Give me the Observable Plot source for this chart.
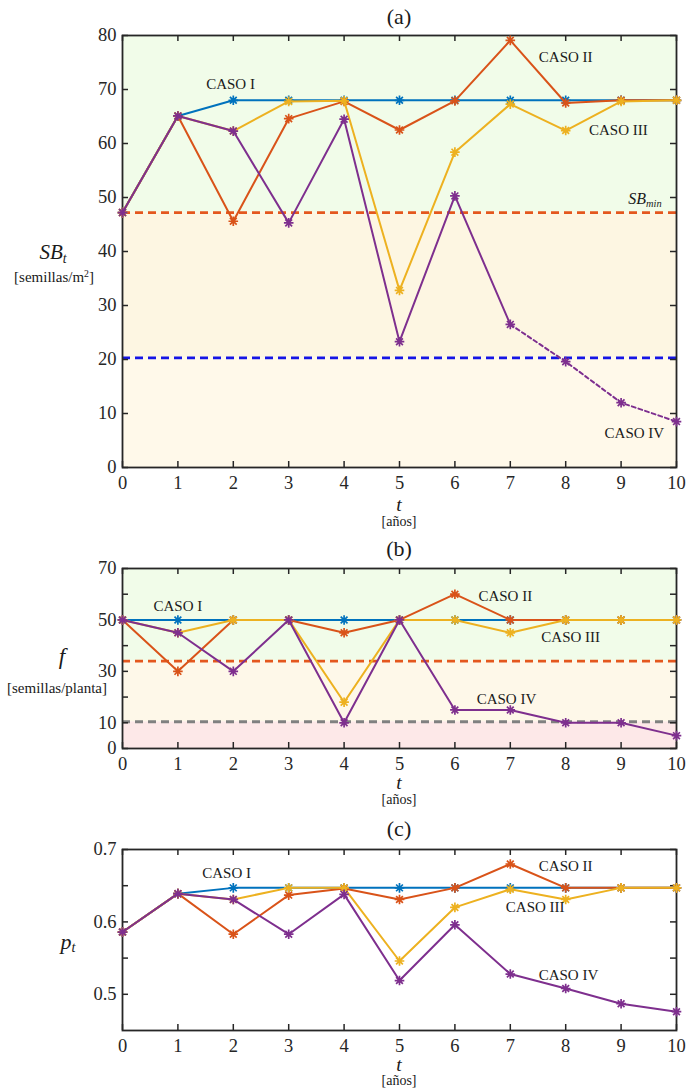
<!DOCTYPE html>
<html>
<head>
<meta charset="utf-8">
<script src="https://cdn.jsdelivr.net/npm/d3@7"></script>
<script src="https://cdn.jsdelivr.net/npm/@observablehq/plot@0.6"></script>
<style>
  html, body { margin: 0; padding: 0; background: #fff; }
  #wrap { position: relative; width: 689px; height: 1088px; background: #fff; font-family: "Liberation Serif", "Times New Roman", Times, serif; color: #1a1a1a; overflow: hidden; }
  .abs { position: absolute; white-space: nowrap; line-height: 0.75; transform: translate(-50%, -50%); }
  .panel { position: absolute; left: 0; }
  sub { font-size: 0.65em; vertical-align: -0.25em; line-height: 0; }
  sup { font-size: 0.65em; vertical-align: 0.55em; line-height: 0; }
</style>
</head>
<body>
<div id="wrap"></div>
<script>
// ---------------- data ----------------
const tYears = [0, 1, 2, 3, 4, 5, 6, 7, 8, 9, 10];
const caseNames = ["CASO I", "CASO II", "CASO III", "CASO IV"];

// (a) seed bank SB_t [semillas/m2]
const sbCaso1 = [47.2, 65.1, 68.0, 68.0, 68.0, 68.0, 68.0, 68.0, 68.0, 68.0, 68.0];
const sbCaso2 = [47.2, 65.1, 45.6, 64.6, 67.8, 62.5, 67.9, 79.1, 67.5, 68.0, 68.0];
const sbCaso3 = [47.2, 65.1, 62.3, 67.8, 67.9, 32.8, 58.4, 67.3, 62.4, 67.8, 68.0];
const sbCaso4 = [47.2, 65.1, 62.3, 45.3, 64.5, 23.3, 50.3, 26.5, 19.6, 12.0, 8.5];
const sbMin = 47.2;
const sbCrit = 20.3;
const sbTicks = [0, 10, 20, 30, 40, 50, 60, 70, 80];

// (b) fecundity f [semillas/planta]
const fCaso1 = [50, 50, 50, 50, 50, 50, 50, 50, 50, 50, 50];
const fCaso2 = [50, 30, 50, 50, 45, 50, 60, 50, 50, 50, 50];
const fCaso3 = [50, 45, 50, 50, 18, 50, 50, 45, 50, 50, 50];
const fCaso4 = [50, 45, 30, 50, 10, 50, 15, 15, 10, 10, 5];
const fMin = 34;
const fCrit = 10.4;
const fTicks = [0, 10, 20, 30, 40, 50, 60, 70];
const fTickLabels = [0, 10, 30, 50, 70];

// (c) p_t
const pCaso1 = [0.586, 0.639, 0.647, 0.647, 0.647, 0.647, 0.647, 0.647, 0.647, 0.647, 0.647];
const pCaso2 = [0.586, 0.639, 0.583, 0.637, 0.646, 0.631, 0.647, 0.680, 0.647, 0.647, 0.647];
const pCaso3 = [0.586, 0.639, 0.631, 0.647, 0.647, 0.546, 0.620, 0.645, 0.631, 0.647, 0.647];
const pCaso4 = [0.586, 0.639, 0.631, 0.583, 0.638, 0.519, 0.596, 0.528, 0.508, 0.487, 0.476];
const pTicks = [0.5, 0.55, 0.6, 0.65, 0.7];
const pTickLabels = [0.5, 0.6, 0.7];

// annotation anchors (data units)
const labelsA = [{x: 1.95, y: 70.9}, {x: 8.0, y: 75.9}, {x: 8.95, y: 62.4}, {x: 9.24, y: 6.3}];
const labelsB = [{x: 1.0, y: 55.2}, {x: 6.91, y: 59.1}, {x: 8.09, y: 43.2}, {x: 6.93, y: 19.1}];
const labelsC = [{x: 1.88, y: 0.667}, {x: 8.0, y: 0.677}, {x: 7.45, y: 0.620}, {x: 8.05, y: 0.527}];
const sbMinLabel = {x: 9.44, y: 49.6};

// ---------------- styling ----------------
const W = 689, ML = 122, MR = 13;
const FONT = '"Liberation Serif", "Times New Roman", Times, serif';
const caseColors = ["#0072BD", "#D95319", "#EDB120", "#7E2F8E"];
const AX = "#262626";

const starSymbol = {
  draw(ctx, size) {
    const r = Math.sqrt(size / Math.PI);
    const d = r * Math.SQRT1_2;
    ctx.moveTo(-r, 0); ctx.lineTo(r, 0);
    ctx.moveTo(0, -r); ctx.lineTo(0, r);
    ctx.moveTo(-d, -d); ctx.lineTo(d, d);
    ctx.moveTo(-d, d); ctx.lineTo(d, -d);
  }
};

function rowsOf(values) { return tYears.map((t, i) => ({t, v: values[i]})); }

function panel(cfg) {
  const {series, bands, refs, yDomain, yTicks, yLabelTicks, yFormat, labels, height, marginTop, marginBottom, dashFrom} = cfg;
  const innerW = W - ML - MR;
  const innerH = height - marginTop - marginBottom;
  const tick = 6;
  const marks = [];
  const x0 = tYears[0], x1 = tYears[tYears.length - 1];
  for (const b of bands) {
    marks.push(Plot.rect([b], {x1: () => x0, x2: () => x1, y1: "lo", y2: "hi", fill: b.fill}));
  }
  for (const r of refs) {
    marks.push(Plot.ruleY([r.value], {stroke: r.stroke, strokeWidth: 2.8, strokeDasharray: "8,5"}));
  }
  // frame + inward ticks
  marks.push(Plot.frame({stroke: AX, strokeWidth: 1.8}));
  marks.push(Plot.tickY(yTicks, {y: d => d, stroke: AX, strokeWidth: 1.5, insetRight: innerW - tick}));
  marks.push(Plot.tickY(yTicks, {y: d => d, stroke: AX, strokeWidth: 1.5, insetLeft: innerW - tick}));
  marks.push(Plot.tickX(tYears, {x: d => d, stroke: AX, strokeWidth: 1.5, insetTop: innerH - tick}));
  marks.push(Plot.tickX(tYears, {x: d => d, stroke: AX, strokeWidth: 1.5, insetBottom: innerH - tick}));
  marks.push(Plot.axisX({ticks: tYears, tickSize: 0, tickPadding: 8, tickFormat: d => String(d), fill: AX, label: null}));
  marks.push(Plot.axisY({ticks: yLabelTicks, tickSize: 0, tickPadding: 6, tickFormat: yFormat, fill: AX, label: null}));
  // series
  series.forEach((vals, i) => {
    const data = rowsOf(vals);
    const col = caseColors[i];
    if (dashFrom != null && i === 3) {
      marks.push(Plot.line(data.slice(0, dashFrom + 1), {x: "t", y: "v", stroke: col, strokeWidth: 2}));
      const tail = data.slice(dashFrom);
      marks.push(Plot.line(tail, {x: "t", y: "v", stroke: "#ffffff", strokeWidth: 1.2}));
      marks.push(Plot.line(tail, {x: "t", y: "v", stroke: col, strokeWidth: 2, strokeDasharray: "4,3"}));
    } else {
      marks.push(Plot.line(data, {x: "t", y: "v", stroke: col, strokeWidth: 2}));
    }
    marks.push(Plot.dot(data, {x: "t", y: "v", symbol: starSymbol, r: 4.8, fill: "none", stroke: col, strokeWidth: 1.7}));
  });
  marks.push(Plot.text(labels.map((d, i) => ({...d, text: caseNames[i]})), {x: "x", y: "y", text: "text", fontSize: 15, fill: "#1a1a1a"}));
  return Plot.plot({
    width: W, height, marginTop, marginBottom, marginLeft: ML, marginRight: MR,
    x: {domain: [x0, x1]},
    y: {domain: yDomain},
    style: {fontFamily: FONT, fontSize: "18.5px", background: "transparent", overflow: "visible"},
    marks
  });
}

const wrap = document.getElementById("wrap");
function place(el, top) {
  const d = document.createElement("div");
  d.className = "panel"; d.style.top = top + "px";
  d.appendChild(el); wrap.appendChild(d);
  return el;
}
function label(html, cx, cy, size) {
  const d = document.createElement("div");
  d.className = "abs";
  d.style.left = cx + "px"; d.style.top = cy + "px";
  d.style.fontSize = size + "px";
  d.innerHTML = html;
  wrap.appendChild(d);
  return d;
}

// Panel (a)
const pa = place(panel({
  series: [sbCaso1, sbCaso2, sbCaso3, sbCaso4],
  bands: [
    {lo: 0, hi: sbCrit, fill: "#fff9ea"},
    {lo: sbCrit, hi: sbMin, fill: "#fdf6e2"},
    {lo: sbMin, hi: 80, fill: "#f1fce9"}
  ],
  refs: [{value: sbMin, stroke: "#E4571E"}, {value: sbCrit, stroke: "#1414E6"}],
  yDomain: [0, 80], yTicks: sbTicks, yLabelTicks: sbTicks, yFormat: d => String(d),
  labels: labelsA, height: 530, marginTop: 35, marginBottom: 63, dashFrom: 7
}), 0);

// Panel (b)
const pb = place(panel({
  series: [fCaso1, fCaso2, fCaso3, fCaso4],
  bands: [
    {lo: 0, hi: fCrit, fill: "#fde8e8"},
    {lo: fCrit, hi: fMin, fill: "#fef8e9"},
    {lo: fMin, hi: 70, fill: "#f1fce9"}
  ],
  refs: [{value: fMin, stroke: "#E4571E"}, {value: fCrit, stroke: "#808080"}],
  yDomain: [0, 70], yTicks: fTicks, yLabelTicks: fTickLabels, yFormat: d => String(d),
  labels: labelsB, height: 280, marginTop: 38, marginBottom: 62
}), 530);

// Panel (c)
const pc = place(panel({
  series: [pCaso1, pCaso2, pCaso3, pCaso4],
  bands: [],
  refs: [],
  yDomain: [0.45, 0.7], yTicks: pTicks, yLabelTicks: pTickLabels, yFormat: d3.format(".1f"),
  labels: labelsC, height: 278, marginTop: 39, marginBottom: 58
}), 810);

// titles
const cx = ML + (W - ML - MR) / 2;
label("(a)", cx, 17, 22);
label("(b)", cx, 549, 22);
label("(c)", cx, 829, 22);

// x labels
[[505, 522], [783, 800], [1065, 1081]].forEach(([ty, ay]) => {
  label("<i>t</i>", cx, ty, 19.5);
  label("[años]", cx, ay, 14);
});

// y labels
label("<i>SB</i><sub><i>t</i></sub>", 53, 253, 21);
label("[semillas/m<sup>2</sup>]", 54, 278, 15);
label("<i>f</i>", 62, 657, 23);
label("[semillas/planta]", 57, 689, 15);
label("<i>p</i><sub><i>t</i></sub>", 68, 942, 22);

// SB_min annotation (placed through the plot's own scales)
const sx = pa.scale("x"), sy = pa.scale("y");
label("<i>SB</i><sub><i>min</i></sub>", sx.apply(sbMinLabel.x), sy.apply(sbMinLabel.y), 16);
</script>
</body>
</html>
